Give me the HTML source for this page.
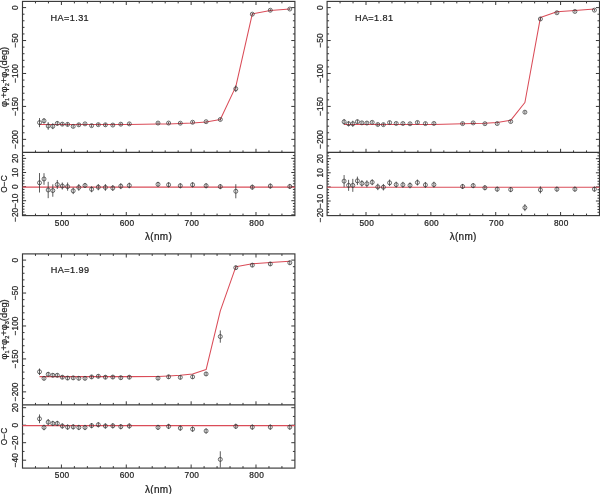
<!DOCTYPE html>
<html><head><meta charset="utf-8"><title>plot</title>
<style>
html,body{margin:0;padding:0;background:#fff;}
body{width:600px;height:494px;overflow:hidden;}
svg{display:block;font-family:'Liberation Sans', sans-serif;filter:blur(0.3px);}
</style></head>
<body>
<svg width="600" height="494" viewBox="0 0 600 494">
<rect width="600" height="494" fill="#fff"/>
<g transform="translate(0 0)"><rect x="22.5" y="1.4" width="272.4" height="214.2" fill="none" stroke="#383838" stroke-width="1.15"/>
<line x1="22.5" y1="152.4" x2="294.9" y2="152.4" stroke="#383838" stroke-width="1.15"/>
<path d="M35.47 1.4v2M35.47 152.4v-2M35.47 215.6v-2M48.44 1.4v2M48.44 152.4v-2M48.44 215.6v-2M61.41 1.4v3.6M61.41 152.4v-3.6M61.41 215.6v-3.6M74.39 1.4v2M74.39 152.4v-2M74.39 215.6v-2M87.36 1.4v2M87.36 152.4v-2M87.36 215.6v-2M100.33 1.4v2M100.33 152.4v-2M100.33 215.6v-2M113.3 1.4v2M113.3 152.4v-2M113.3 215.6v-2M126.27 1.4v3.6M126.27 152.4v-3.6M126.27 215.6v-3.6M139.24 1.4v2M139.24 152.4v-2M139.24 215.6v-2M152.21 1.4v2M152.21 152.4v-2M152.21 215.6v-2M165.19 1.4v2M165.19 152.4v-2M165.19 215.6v-2M178.16 1.4v2M178.16 152.4v-2M178.16 215.6v-2M191.13 1.4v3.6M191.13 152.4v-3.6M191.13 215.6v-3.6M204.1 1.4v2M204.1 152.4v-2M204.1 215.6v-2M217.07 1.4v2M217.07 152.4v-2M217.07 215.6v-2M230.04 1.4v2M230.04 152.4v-2M230.04 215.6v-2M243.01 1.4v2M243.01 152.4v-2M243.01 215.6v-2M255.99 1.4v3.6M255.99 152.4v-3.6M255.99 215.6v-3.6M268.96 1.4v2M268.96 152.4v-2M268.96 215.6v-2M281.93 1.4v2M281.93 152.4v-2M281.93 215.6v-2M22.5 145.95h2M294.9 145.95h-2M22.5 139.36h3.6M294.9 139.36h-3.6M22.5 132.77h2M294.9 132.77h-2M22.5 126.18h2M294.9 126.18h-2M22.5 119.6h2M294.9 119.6h-2M22.5 113.01h2M294.9 113.01h-2M22.5 106.42h3.6M294.9 106.42h-3.6M22.5 99.83h2M294.9 99.83h-2M22.5 93.24h2M294.9 93.24h-2M22.5 86.66h2M294.9 86.66h-2M22.5 80.07h2M294.9 80.07h-2M22.5 73.48h3.6M294.9 73.48h-3.6M22.5 66.89h2M294.9 66.89h-2M22.5 60.3h2M294.9 60.3h-2M22.5 53.72h2M294.9 53.72h-2M22.5 47.13h2M294.9 47.13h-2M22.5 40.54h3.6M294.9 40.54h-3.6M22.5 33.95h2M294.9 33.95h-2M22.5 27.36h2M294.9 27.36h-2M22.5 20.78h2M294.9 20.78h-2M22.5 14.19h2M294.9 14.19h-2M22.5 7.6h3.6M294.9 7.6h-3.6M22.5 214.82h3.6M294.9 214.82h-3.6M22.5 212h2M294.9 212h-2M22.5 209.18h2M294.9 209.18h-2M22.5 206.35h2M294.9 206.35h-2M22.5 203.53h2M294.9 203.53h-2M22.5 200.71h3.6M294.9 200.71h-3.6M22.5 197.89h2M294.9 197.89h-2M22.5 195.07h2M294.9 195.07h-2M22.5 192.24h2M294.9 192.24h-2M22.5 189.42h2M294.9 189.42h-2M22.5 186.6h3.6M294.9 186.6h-3.6M22.5 183.78h2M294.9 183.78h-2M22.5 180.96h2M294.9 180.96h-2M22.5 178.13h2M294.9 178.13h-2M22.5 175.31h2M294.9 175.31h-2M22.5 172.49h3.6M294.9 172.49h-3.6M22.5 169.67h2M294.9 169.67h-2M22.5 166.85h2M294.9 166.85h-2M22.5 164.02h2M294.9 164.02h-2M22.5 161.2h2M294.9 161.2h-2M22.5 158.38h3.6M294.9 158.38h-3.6M22.5 155.56h2M294.9 155.56h-2" stroke="#383838" stroke-width="1.0" fill="none"/>
<g font-size="8.3" fill="#222" stroke="#222" stroke-width="0.22"><text x="62.16" y="225.5" text-anchor="middle" letter-spacing="0.3">500</text><text x="127.02" y="225.5" text-anchor="middle" letter-spacing="0.3">600</text><text x="191.88" y="225.5" text-anchor="middle" letter-spacing="0.3">700</text><text x="256.74" y="225.5" text-anchor="middle" letter-spacing="0.3">800</text><text transform="translate(17.9 7.6) rotate(-90)" text-anchor="middle">0</text><text transform="translate(17.9 40.54) rotate(-90)" text-anchor="middle">−50</text><text transform="translate(17.9 73.48) rotate(-90)" text-anchor="middle">−100</text><text transform="translate(17.9 106.42) rotate(-90)" text-anchor="middle">−150</text><text transform="translate(17.9 139.36) rotate(-90)" text-anchor="middle">−200</text><text transform="translate(17.9 158.38) rotate(-90)" text-anchor="middle">20</text><text transform="translate(17.9 172.49) rotate(-90)" text-anchor="middle">10</text><text transform="translate(17.9 186.6) rotate(-90)" text-anchor="middle">0</text><text transform="translate(17.9 200.71) rotate(-90)" text-anchor="middle">−10</text><text transform="translate(17.9 214.82) rotate(-90)" text-anchor="middle">−20</text></g>
<text x="158.6" y="240.2" text-anchor="middle" font-size="10" letter-spacing="0.3" fill="#222" stroke="#222" stroke-width="0.22">&#955;(nm)</text>
<text transform="translate(6.6 184) rotate(-90)" text-anchor="middle" font-size="8.4" fill="#222" stroke="#222" stroke-width="0.22">O−C</text>
<text transform="translate(6.8 76.9) rotate(-90)" text-anchor="middle" font-size="9.4" fill="#222" stroke="#222" stroke-width="0.22">&#966;<tspan font-size="5.5" dy="2">1</tspan><tspan dy="-2">+&#966;</tspan><tspan font-size="5.5" dy="2">2</tspan><tspan dy="-2">+&#966;</tspan><tspan font-size="5.5" dy="2">3</tspan><tspan dy="-2">(deg)</tspan></text>
<text x="50.5" y="20.6" font-size="9.1" fill="#222" stroke="#222" stroke-width="0.22" letter-spacing="0.42">HA=1.31</text>
<polyline points="39.5,124.4 44,124.4 48.2,124.4 52.8,124.4 57.3,124.4 62.3,124.4 67.6,124.4 73.2,124.4 78.8,124.4 85,124.4 91.6,124.4 98.3,124.4 105.4,124.4 112.8,124.4 120.8,124.4 129.3,124.4 158,124.1 168.6,123.9 180.3,123.6 192.6,123.1 206.1,122.1 220.3,119.5 235.8,86.6 252.3,13.9 270.3,10.5 289.8,9.1" fill="none" stroke="#da4c58" stroke-width="1.05" stroke-linejoin="round"/>
<line x1="22.5" y1="187.1" x2="294.9" y2="187.1" stroke="#da4c58" stroke-width="1.05"/>
<path d="M39.5 118.08V127.17M39.5 173.05V192.53M44 118.14V123.54M44 173.2V184.77M48.2 122.16V129.8M48.2 181.8V198.17M52.8 123.35V129.14M52.8 184.34V196.76M57.3 121.3V125.52M57.3 179.97V189M62.3 122.49V125.78M62.3 182.51V189.56M67.6 122.49V126.31M67.6 182.51V190.69M73.2 124.86V127.89M73.2 187.59V194.08M78.8 123.21V126.38M78.8 184.06V190.83M85 122.69V125.06M85 182.93V188.01M91.6 124.27V127.04M91.6 186.32V192.24M98.3 123.21V126.11M98.3 184.06V190.27M105.4 123.21V126.38M105.4 184.06V190.83M112.8 123.68V126.44M112.8 185.05V190.97M120.8 122.82V125.59M120.8 183.21V189.14M129.3 122.56V125.19M129.3 182.65V188.29M158 121.86V124.23M158 181.8V186.88M168.6 121.86V124.23M168.6 182.23V187.31M180.3 122.02V124.39M180.3 183.21V188.29M192.6 121.06V123.43M192.6 182.23V187.31M206.1 120.52V122.89M206.1 183.21V188.29M220.3 118.31V120.69M220.3 184.06V189.14M235.8 85.48V92.07M235.8 184.2V198.31M252.3 12.98V15.35M252.3 184.62V189.7M270.3 9.05V11.42M270.3 183.5V188.58M289.8 7.85V10.22M289.8 183.92V189" stroke="#333" stroke-width="0.8" fill="none"/>
<g fill="none" stroke="#333" stroke-width="0.72"><circle cx="39.5" cy="122.62" r="2.0"/><circle cx="39.5" cy="182.79" r="2.0"/><circle cx="44" cy="120.84" r="2.0"/><circle cx="44" cy="178.98" r="2.0"/><circle cx="48.2" cy="125.98" r="2.0"/><circle cx="48.2" cy="189.99" r="2.0"/><circle cx="52.8" cy="126.24" r="2.0"/><circle cx="52.8" cy="190.55" r="2.0"/><circle cx="57.3" cy="123.41" r="2.0"/><circle cx="57.3" cy="184.48" r="2.0"/><circle cx="62.3" cy="124.14" r="2.0"/><circle cx="62.3" cy="186.04" r="2.0"/><circle cx="67.6" cy="124.4" r="2.0"/><circle cx="67.6" cy="186.6" r="2.0"/><circle cx="73.2" cy="126.38" r="2.0"/><circle cx="73.2" cy="190.83" r="2.0"/><circle cx="78.8" cy="124.8" r="2.0"/><circle cx="78.8" cy="187.45" r="2.0"/><circle cx="85" cy="123.87" r="2.0"/><circle cx="85" cy="185.47" r="2.0"/><circle cx="91.6" cy="125.65" r="2.0"/><circle cx="91.6" cy="189.28" r="2.0"/><circle cx="98.3" cy="124.66" r="2.0"/><circle cx="98.3" cy="187.16" r="2.0"/><circle cx="105.4" cy="124.8" r="2.0"/><circle cx="105.4" cy="187.45" r="2.0"/><circle cx="112.8" cy="125.06" r="2.0"/><circle cx="112.8" cy="188.01" r="2.0"/><circle cx="120.8" cy="124.2" r="2.0"/><circle cx="120.8" cy="186.18" r="2.0"/><circle cx="129.3" cy="123.87" r="2.0"/><circle cx="129.3" cy="185.47" r="2.0"/><circle cx="158" cy="123.05" r="2.0"/><circle cx="158" cy="184.34" r="2.0"/><circle cx="168.6" cy="123.04" r="2.0"/><circle cx="168.6" cy="184.77" r="2.0"/><circle cx="180.3" cy="123.2" r="2.0"/><circle cx="180.3" cy="185.75" r="2.0"/><circle cx="192.6" cy="122.24" r="2.0"/><circle cx="192.6" cy="184.77" r="2.0"/><circle cx="206.1" cy="121.7" r="2.0"/><circle cx="206.1" cy="185.75" r="2.0"/><circle cx="220.3" cy="119.5" r="2.0"/><circle cx="220.3" cy="186.6" r="2.0"/><circle cx="235.8" cy="88.77" r="2.0"/><circle cx="235.8" cy="191.26" r="2.0"/><circle cx="252.3" cy="14.16" r="2.0"/><circle cx="252.3" cy="187.16" r="2.0"/><circle cx="270.3" cy="10.24" r="2.0"/><circle cx="270.3" cy="186.04" r="2.0"/><circle cx="289.8" cy="9.03" r="2.0"/><circle cx="289.8" cy="186.46" r="2.0"/></g></g>
<g transform="translate(304.6 0)"><rect x="22.5" y="1.4" width="272.4" height="214.2" fill="none" stroke="#383838" stroke-width="1.15"/>
<line x1="22.5" y1="152.4" x2="294.9" y2="152.4" stroke="#383838" stroke-width="1.15"/>
<path d="M35.47 1.4v2M35.47 152.4v-2M35.47 215.6v-2M48.44 1.4v2M48.44 152.4v-2M48.44 215.6v-2M61.41 1.4v3.6M61.41 152.4v-3.6M61.41 215.6v-3.6M74.39 1.4v2M74.39 152.4v-2M74.39 215.6v-2M87.36 1.4v2M87.36 152.4v-2M87.36 215.6v-2M100.33 1.4v2M100.33 152.4v-2M100.33 215.6v-2M113.3 1.4v2M113.3 152.4v-2M113.3 215.6v-2M126.27 1.4v3.6M126.27 152.4v-3.6M126.27 215.6v-3.6M139.24 1.4v2M139.24 152.4v-2M139.24 215.6v-2M152.21 1.4v2M152.21 152.4v-2M152.21 215.6v-2M165.19 1.4v2M165.19 152.4v-2M165.19 215.6v-2M178.16 1.4v2M178.16 152.4v-2M178.16 215.6v-2M191.13 1.4v3.6M191.13 152.4v-3.6M191.13 215.6v-3.6M204.1 1.4v2M204.1 152.4v-2M204.1 215.6v-2M217.07 1.4v2M217.07 152.4v-2M217.07 215.6v-2M230.04 1.4v2M230.04 152.4v-2M230.04 215.6v-2M243.01 1.4v2M243.01 152.4v-2M243.01 215.6v-2M255.99 1.4v3.6M255.99 152.4v-3.6M255.99 215.6v-3.6M268.96 1.4v2M268.96 152.4v-2M268.96 215.6v-2M281.93 1.4v2M281.93 152.4v-2M281.93 215.6v-2M22.5 145.95h2M294.9 145.95h-2M22.5 139.36h3.6M294.9 139.36h-3.6M22.5 132.77h2M294.9 132.77h-2M22.5 126.18h2M294.9 126.18h-2M22.5 119.6h2M294.9 119.6h-2M22.5 113.01h2M294.9 113.01h-2M22.5 106.42h3.6M294.9 106.42h-3.6M22.5 99.83h2M294.9 99.83h-2M22.5 93.24h2M294.9 93.24h-2M22.5 86.66h2M294.9 86.66h-2M22.5 80.07h2M294.9 80.07h-2M22.5 73.48h3.6M294.9 73.48h-3.6M22.5 66.89h2M294.9 66.89h-2M22.5 60.3h2M294.9 60.3h-2M22.5 53.72h2M294.9 53.72h-2M22.5 47.13h2M294.9 47.13h-2M22.5 40.54h3.6M294.9 40.54h-3.6M22.5 33.95h2M294.9 33.95h-2M22.5 27.36h2M294.9 27.36h-2M22.5 20.78h2M294.9 20.78h-2M22.5 14.19h2M294.9 14.19h-2M22.5 7.6h3.6M294.9 7.6h-3.6M22.5 212.3h2M294.9 212.3h-2M22.5 209.48h2M294.9 209.48h-2M22.5 206.65h2M294.9 206.65h-2M22.5 203.83h2M294.9 203.83h-2M22.5 201.01h3.6M294.9 201.01h-3.6M22.5 198.19h2M294.9 198.19h-2M22.5 195.37h2M294.9 195.37h-2M22.5 192.54h2M294.9 192.54h-2M22.5 189.72h2M294.9 189.72h-2M22.5 186.9h3.6M294.9 186.9h-3.6M22.5 184.08h2M294.9 184.08h-2M22.5 181.26h2M294.9 181.26h-2M22.5 178.43h2M294.9 178.43h-2M22.5 175.61h2M294.9 175.61h-2M22.5 172.79h3.6M294.9 172.79h-3.6M22.5 169.97h2M294.9 169.97h-2M22.5 167.15h2M294.9 167.15h-2M22.5 164.32h2M294.9 164.32h-2M22.5 161.5h2M294.9 161.5h-2M22.5 158.68h3.6M294.9 158.68h-3.6M22.5 155.86h2M294.9 155.86h-2M22.5 153.04h2M294.9 153.04h-2" stroke="#383838" stroke-width="1.0" fill="none"/>
<g font-size="8.3" fill="#222" stroke="#222" stroke-width="0.22"><text x="62.16" y="225.5" text-anchor="middle" letter-spacing="0.3">500</text><text x="127.02" y="225.5" text-anchor="middle" letter-spacing="0.3">600</text><text x="191.88" y="225.5" text-anchor="middle" letter-spacing="0.3">700</text><text x="256.74" y="225.5" text-anchor="middle" letter-spacing="0.3">800</text><text transform="translate(17.9 7.6) rotate(-90)" text-anchor="middle">0</text><text transform="translate(17.9 40.54) rotate(-90)" text-anchor="middle">−50</text><text transform="translate(17.9 73.48) rotate(-90)" text-anchor="middle">−100</text><text transform="translate(17.9 106.42) rotate(-90)" text-anchor="middle">−150</text><text transform="translate(17.9 139.36) rotate(-90)" text-anchor="middle">−200</text><text transform="translate(17.9 158.68) rotate(-90)" text-anchor="middle">20</text><text transform="translate(17.9 172.79) rotate(-90)" text-anchor="middle">10</text><text transform="translate(17.9 186.9) rotate(-90)" text-anchor="middle">0</text><text transform="translate(17.9 201.01) rotate(-90)" text-anchor="middle">−10</text><text transform="translate(17.9 215.12) rotate(-90)" text-anchor="middle">−20</text></g>
<text x="158.6" y="240.2" text-anchor="middle" font-size="10" letter-spacing="0.3" fill="#222" stroke="#222" stroke-width="0.22">&#955;(nm)</text>
<text x="50.3" y="20.6" font-size="9.1" fill="#222" stroke="#222" stroke-width="0.22" letter-spacing="0.42">HA=1.81</text>
<polyline points="39.5,124.5 44,124.5 48.2,124.5 52.8,124.5 57.3,124.5 62.3,124.5 67.6,124.5 73.2,124.5 78.8,124.5 85,124.5 91.6,124.5 98.3,124.5 105.4,124.5 112.8,124.5 120.8,124.5 129.3,124.5 158,123.8 168.6,123.5 180.3,123.3 192.6,122.5 206.1,120.3 220.3,102.5 235.8,17.6 252.3,11.7 270.3,10.4 289.8,9.1" fill="none" stroke="#da4c58" stroke-width="1.05" stroke-linejoin="round"/>
<line x1="22.5" y1="187.15" x2="294.9" y2="187.15" stroke="#da4c58" stroke-width="1.05"/>
<path d="M39.5 118.97V124.63M39.5 175.05V187.18M44 121.21V126.34M44 179.84V190.85M48.2 120.74V126.81M48.2 178.86V191.84M52.8 119.69V123.64M52.8 176.6V185.07M57.3 121.34V124.37M57.3 180.13V186.62M62.3 121.4V124.7M62.3 180.27V187.32M67.6 120.94V123.71M67.6 179.28V185.21M73.2 122.98V126.02M73.2 183.65V190.15M78.8 123.12V126.15M78.8 183.94V190.43M85 121.07V124.1M85 179.56V186.05M91.6 122.06V124.83M91.6 181.68V187.61M98.3 122.13V124.9M98.3 181.82V187.75M105.4 122.39V125.16M105.4 182.38V188.31M112.8 121.07V123.84M112.8 179.56V185.49M120.8 122.19V124.96M120.8 181.96V187.89M129.3 122.06V124.83M129.3 181.68V187.61M158 122.42V124.79M158 183.94V189.02M168.6 121.72V124.09M168.6 183.09V188.17M180.3 122.51V124.88M180.3 185.21V190.29M192.6 122.37V124.74M192.6 186.62V191.7M206.1 120.37V122.74M206.1 187.04V192.12M220.3 110.54V113.83M220.3 204.11V211.17M235.8 17.34V20.63M235.8 186.34V193.39M252.3 11.57V13.94M252.3 186.62V191.7M270.3 10.27V12.64M270.3 186.62V191.7M289.8 8.97V11.34M289.8 186.62V191.7" stroke="#333" stroke-width="0.8" fill="none"/>
<g fill="none" stroke="#333" stroke-width="0.72"><circle cx="39.5" cy="121.8" r="2.0"/><circle cx="39.5" cy="181.11" r="2.0"/><circle cx="44" cy="123.78" r="2.0"/><circle cx="44" cy="185.35" r="2.0"/><circle cx="48.2" cy="123.78" r="2.0"/><circle cx="48.2" cy="185.35" r="2.0"/><circle cx="52.8" cy="121.67" r="2.0"/><circle cx="52.8" cy="180.83" r="2.0"/><circle cx="57.3" cy="122.85" r="2.0"/><circle cx="57.3" cy="183.37" r="2.0"/><circle cx="62.3" cy="123.05" r="2.0"/><circle cx="62.3" cy="183.8" r="2.0"/><circle cx="67.6" cy="122.33" r="2.0"/><circle cx="67.6" cy="182.24" r="2.0"/><circle cx="73.2" cy="124.5" r="2.0"/><circle cx="73.2" cy="186.9" r="2.0"/><circle cx="78.8" cy="124.63" r="2.0"/><circle cx="78.8" cy="187.18" r="2.0"/><circle cx="85" cy="122.59" r="2.0"/><circle cx="85" cy="182.81" r="2.0"/><circle cx="91.6" cy="123.45" r="2.0"/><circle cx="91.6" cy="184.64" r="2.0"/><circle cx="98.3" cy="123.51" r="2.0"/><circle cx="98.3" cy="184.78" r="2.0"/><circle cx="105.4" cy="123.78" r="2.0"/><circle cx="105.4" cy="185.35" r="2.0"/><circle cx="112.8" cy="122.46" r="2.0"/><circle cx="112.8" cy="182.53" r="2.0"/><circle cx="120.8" cy="123.58" r="2.0"/><circle cx="120.8" cy="184.92" r="2.0"/><circle cx="129.3" cy="123.45" r="2.0"/><circle cx="129.3" cy="184.64" r="2.0"/><circle cx="158" cy="123.6" r="2.0"/><circle cx="158" cy="186.48" r="2.0"/><circle cx="168.6" cy="122.91" r="2.0"/><circle cx="168.6" cy="185.63" r="2.0"/><circle cx="180.3" cy="123.7" r="2.0"/><circle cx="180.3" cy="187.75" r="2.0"/><circle cx="192.6" cy="123.55" r="2.0"/><circle cx="192.6" cy="189.16" r="2.0"/><circle cx="206.1" cy="121.55" r="2.0"/><circle cx="206.1" cy="189.58" r="2.0"/><circle cx="220.3" cy="112.18" r="2.0"/><circle cx="220.3" cy="207.64" r="2.0"/><circle cx="235.8" cy="18.98" r="2.0"/><circle cx="235.8" cy="189.86" r="2.0"/><circle cx="252.3" cy="12.75" r="2.0"/><circle cx="252.3" cy="189.16" r="2.0"/><circle cx="270.3" cy="11.45" r="2.0"/><circle cx="270.3" cy="189.16" r="2.0"/><circle cx="289.8" cy="10.15" r="2.0"/><circle cx="289.8" cy="189.16" r="2.0"/></g></g>
<g transform="translate(0 252.5)"><rect x="22.5" y="1.4" width="272.4" height="214.2" fill="none" stroke="#383838" stroke-width="1.15"/>
<line x1="22.5" y1="152.4" x2="294.9" y2="152.4" stroke="#383838" stroke-width="1.15"/>
<path d="M35.47 1.4v2M35.47 152.4v-2M35.47 215.6v-2M48.44 1.4v2M48.44 152.4v-2M48.44 215.6v-2M61.41 1.4v3.6M61.41 152.4v-3.6M61.41 215.6v-3.6M74.39 1.4v2M74.39 152.4v-2M74.39 215.6v-2M87.36 1.4v2M87.36 152.4v-2M87.36 215.6v-2M100.33 1.4v2M100.33 152.4v-2M100.33 215.6v-2M113.3 1.4v2M113.3 152.4v-2M113.3 215.6v-2M126.27 1.4v3.6M126.27 152.4v-3.6M126.27 215.6v-3.6M139.24 1.4v2M139.24 152.4v-2M139.24 215.6v-2M152.21 1.4v2M152.21 152.4v-2M152.21 215.6v-2M165.19 1.4v2M165.19 152.4v-2M165.19 215.6v-2M178.16 1.4v2M178.16 152.4v-2M178.16 215.6v-2M191.13 1.4v3.6M191.13 152.4v-3.6M191.13 215.6v-3.6M204.1 1.4v2M204.1 152.4v-2M204.1 215.6v-2M217.07 1.4v2M217.07 152.4v-2M217.07 215.6v-2M230.04 1.4v2M230.04 152.4v-2M230.04 215.6v-2M243.01 1.4v2M243.01 152.4v-2M243.01 215.6v-2M255.99 1.4v3.6M255.99 152.4v-3.6M255.99 215.6v-3.6M268.96 1.4v2M268.96 152.4v-2M268.96 215.6v-2M281.93 1.4v2M281.93 152.4v-2M281.93 215.6v-2M22.5 145.95h2M294.9 145.95h-2M22.5 139.36h3.6M294.9 139.36h-3.6M22.5 132.77h2M294.9 132.77h-2M22.5 126.18h2M294.9 126.18h-2M22.5 119.6h2M294.9 119.6h-2M22.5 113.01h2M294.9 113.01h-2M22.5 106.42h3.6M294.9 106.42h-3.6M22.5 99.83h2M294.9 99.83h-2M22.5 93.24h2M294.9 93.24h-2M22.5 86.66h2M294.9 86.66h-2M22.5 80.07h2M294.9 80.07h-2M22.5 73.48h3.6M294.9 73.48h-3.6M22.5 66.89h2M294.9 66.89h-2M22.5 60.3h2M294.9 60.3h-2M22.5 53.72h2M294.9 53.72h-2M22.5 47.13h2M294.9 47.13h-2M22.5 40.54h3.6M294.9 40.54h-3.6M22.5 33.95h2M294.9 33.95h-2M22.5 27.36h2M294.9 27.36h-2M22.5 20.78h2M294.9 20.78h-2M22.5 14.19h2M294.9 14.19h-2M22.5 7.6h3.6M294.9 7.6h-3.6M22.5 207.7h3.6M294.9 207.7h-3.6M22.5 198.95h2M294.9 198.95h-2M22.5 190.2h3.6M294.9 190.2h-3.6M22.5 181.45h2M294.9 181.45h-2M22.5 172.7h3.6M294.9 172.7h-3.6M22.5 163.95h2M294.9 163.95h-2M22.5 155.2h3.6M294.9 155.2h-3.6" stroke="#383838" stroke-width="1.0" fill="none"/>
<g font-size="8.3" fill="#222" stroke="#222" stroke-width="0.22"><text x="62.16" y="225.5" text-anchor="middle" letter-spacing="0.3">500</text><text x="127.02" y="225.5" text-anchor="middle" letter-spacing="0.3">600</text><text x="191.88" y="225.5" text-anchor="middle" letter-spacing="0.3">700</text><text x="256.74" y="225.5" text-anchor="middle" letter-spacing="0.3">800</text><text transform="translate(17.9 7.6) rotate(-90)" text-anchor="middle">0</text><text transform="translate(17.9 40.54) rotate(-90)" text-anchor="middle">−50</text><text transform="translate(17.9 73.48) rotate(-90)" text-anchor="middle">−100</text><text transform="translate(17.9 106.42) rotate(-90)" text-anchor="middle">−150</text><text transform="translate(17.9 139.36) rotate(-90)" text-anchor="middle">−200</text><text transform="translate(17.9 155.2) rotate(-90)" text-anchor="middle">20</text><text transform="translate(17.9 172.7) rotate(-90)" text-anchor="middle">0</text><text transform="translate(17.9 190.2) rotate(-90)" text-anchor="middle">−20</text><text transform="translate(17.9 207.7) rotate(-90)" text-anchor="middle">−40</text></g>
<text x="158.6" y="240.2" text-anchor="middle" font-size="10" letter-spacing="0.3" fill="#222" stroke="#222" stroke-width="0.22">&#955;(nm)</text>
<text transform="translate(6.6 184) rotate(-90)" text-anchor="middle" font-size="8.4" fill="#222" stroke="#222" stroke-width="0.22">O−C</text>
<text transform="translate(6.8 76.9) rotate(-90)" text-anchor="middle" font-size="9.4" fill="#222" stroke="#222" stroke-width="0.22">&#966;<tspan font-size="5.5" dy="2">1</tspan><tspan dy="-2">+&#966;</tspan><tspan font-size="5.5" dy="2">2</tspan><tspan dy="-2">+&#966;</tspan><tspan font-size="5.5" dy="2">3</tspan><tspan dy="-2">(deg)</tspan></text>
<text x="50.8" y="20.6" font-size="9.1" fill="#222" stroke="#222" stroke-width="0.22" letter-spacing="0.42">HA=1.99</text>
<polyline points="39.5,124.1 44,124.1 48.2,124.1 52.8,124.1 57.3,124.1 62.3,124.1 67.6,124.1 73.2,124.1 78.8,124.1 85,124.1 91.6,124.1 98.3,124.1 105.4,124.1 112.8,124.1 120.8,124.1 129.3,124.1 158,124 168.6,123.4 180.3,122.7 192.6,121.4 206.1,117.1 220.3,58.3 235.8,14.3 252.3,11.2 270.3,10 289.8,8.8" fill="none" stroke="#da4c58" stroke-width="1.05" stroke-linejoin="round"/>
<line x1="22.5" y1="173.1" x2="294.9" y2="173.1" stroke="#da4c58" stroke-width="1.05"/>
<path d="M39.5 116V122.58M39.5 161.94V170.69M44 123.7V127.92M44 172.17V177.78M48.2 119.42V124.17M48.2 166.49V172.79M52.8 120.81V124.76M52.8 168.32V173.57M57.3 120.81V124.76M57.3 168.32V173.57M62.3 122.72V126.67M62.3 170.86V176.11M67.6 123.57V127.53M67.6 172V177.25M73.2 123.38V127.33M73.2 171.74V176.99M78.8 123.84V127.79M78.8 172.35V177.6M85 123.84V127.79M85 172.35V177.6M91.6 122.45V126.41M91.6 170.51V175.76M98.3 121.79V125.75M98.3 169.64V174.89M105.4 122.72V126.67M105.4 170.86V176.11M112.8 122.58V126.54M112.8 170.69V175.94M120.8 123.24V127.2M120.8 171.56V176.81M129.3 122.72V126.67M129.3 170.86V176.11M158 123.67V127.62M158 172.26V177.51M168.6 122.35V126.3M168.6 171.3V176.55M180.3 122.9V126.85M180.3 172.96V178.21M192.6 122.39V126.34M192.6 174.01V179.26M206.1 119.47V123.42M206.1 175.85V181.1M220.3 77.93V90.19M220.3 198.78V215.05M235.8 13.18V17.13M235.8 171.21V176.46M252.3 10.67V14.63M252.3 172V177.25M270.3 9.47V13.43M270.3 172V177.25M289.8 8.27V12.23M289.8 172V177.25" stroke="#333" stroke-width="0.8" fill="none"/>
<g fill="none" stroke="#333" stroke-width="0.72"><circle cx="39.5" cy="119.29" r="2.0"/><circle cx="39.5" cy="166.31" r="2.0"/><circle cx="44" cy="125.81" r="2.0"/><circle cx="44" cy="174.97" r="2.0"/><circle cx="48.2" cy="121.79" r="2.0"/><circle cx="48.2" cy="169.64" r="2.0"/><circle cx="52.8" cy="122.78" r="2.0"/><circle cx="52.8" cy="170.95" r="2.0"/><circle cx="57.3" cy="122.78" r="2.0"/><circle cx="57.3" cy="170.95" r="2.0"/><circle cx="62.3" cy="124.69" r="2.0"/><circle cx="62.3" cy="173.49" r="2.0"/><circle cx="67.6" cy="125.55" r="2.0"/><circle cx="67.6" cy="174.62" r="2.0"/><circle cx="73.2" cy="125.35" r="2.0"/><circle cx="73.2" cy="174.36" r="2.0"/><circle cx="78.8" cy="125.81" r="2.0"/><circle cx="78.8" cy="174.97" r="2.0"/><circle cx="85" cy="125.81" r="2.0"/><circle cx="85" cy="174.97" r="2.0"/><circle cx="91.6" cy="124.43" r="2.0"/><circle cx="91.6" cy="173.14" r="2.0"/><circle cx="98.3" cy="123.77" r="2.0"/><circle cx="98.3" cy="172.26" r="2.0"/><circle cx="105.4" cy="124.69" r="2.0"/><circle cx="105.4" cy="173.49" r="2.0"/><circle cx="112.8" cy="124.56" r="2.0"/><circle cx="112.8" cy="173.31" r="2.0"/><circle cx="120.8" cy="125.22" r="2.0"/><circle cx="120.8" cy="174.19" r="2.0"/><circle cx="129.3" cy="124.69" r="2.0"/><circle cx="129.3" cy="173.49" r="2.0"/><circle cx="158" cy="125.65" r="2.0"/><circle cx="158" cy="174.89" r="2.0"/><circle cx="168.6" cy="124.32" r="2.0"/><circle cx="168.6" cy="173.92" r="2.0"/><circle cx="180.3" cy="124.87" r="2.0"/><circle cx="180.3" cy="175.59" r="2.0"/><circle cx="192.6" cy="124.36" r="2.0"/><circle cx="192.6" cy="176.64" r="2.0"/><circle cx="206.1" cy="121.45" r="2.0"/><circle cx="206.1" cy="178.47" r="2.0"/><circle cx="220.3" cy="84.06" r="2.0"/><circle cx="220.3" cy="206.91" r="2.0"/><circle cx="235.8" cy="15.16" r="2.0"/><circle cx="235.8" cy="173.84" r="2.0"/><circle cx="252.3" cy="12.65" r="2.0"/><circle cx="252.3" cy="174.62" r="2.0"/><circle cx="270.3" cy="11.45" r="2.0"/><circle cx="270.3" cy="174.62" r="2.0"/><circle cx="289.8" cy="10.25" r="2.0"/><circle cx="289.8" cy="174.62" r="2.0"/></g></g>
</svg>
</body></html>
